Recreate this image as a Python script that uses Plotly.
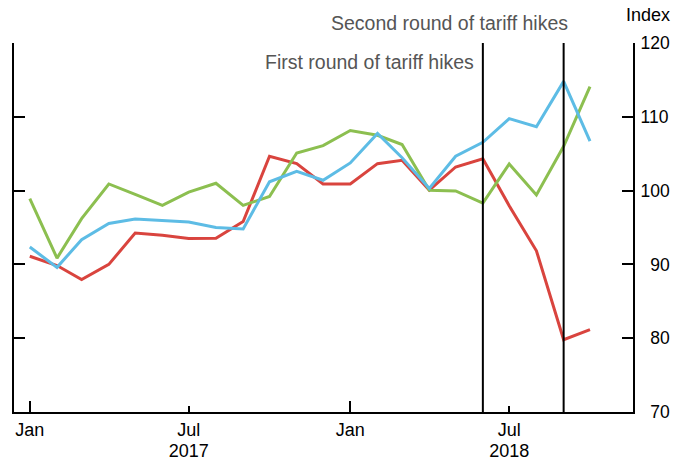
import plotly.graph_objects as go

months = ["2017-01-01", "2017-02-01", "2017-03-01", "2017-04-01", "2017-05-01", "2017-06-01",
          "2017-07-01", "2017-08-01", "2017-09-01", "2017-10-01", "2017-11-01", "2017-12-01",
          "2018-01-01", "2018-02-01", "2018-03-01", "2018-04-01", "2018-05-01", "2018-06-01",
          "2018-07-01", "2018-08-01", "2018-09-01", "2018-10-01"]

green = [98.9, 90.85, 96.2, 100.9, 99.5, 98.0, 99.8, 101.0, 98.0, 99.2, 105.1, 106.1,
         108.15, 107.5, 106.25, 100.05, 99.95, 98.3, 103.6, 99.4, 106.0, 114.1]
blue = [92.35, 89.6, 93.35, 95.55, 96.15, 95.9, 95.75, 95.0, 94.8, 101.2, 102.6, 101.4,
        103.75, 107.75, 104.45, 100.3, 104.65, 106.55, 109.75, 108.65, 114.8, 106.7]
red = [91.1, 89.85, 87.95, 90.0, 94.25, 93.95, 93.5, 93.55, 95.8, 104.65, 103.65, 100.9,
       100.9, 103.65, 104.1, 100.05, 103.2, 104.3, 97.95, 91.85, 79.8, 81.15]

month_ticks = ["2017-01-01", "2017-07-01", "2018-01-01", "2018-07-01"]
month_text = ["Jan", "Jul", "Jan", "Jul"]
year_ticks = ["2017-07-01", "2018-07-01"]
year_text = ["2017", "2018"]
y_ticks = [70, 80, 90, 100, 110, 120]
y_text = ["\u200770", "\u200780", "\u200790", "100", "110", "120"]

events = ["2018-06-01", "2018-09-01"]
event_labels = ["First round of tariff hikes", "Second round of tariff hikes"]

FONT = "Liberation Sans, Arial, sans-serif"
X_RANGE = ["2016-12-14", "2018-11-19"]

fig = go.Figure()
fig.add_trace(go.Scatter(x=months, y=red, mode="lines", line=dict(color="#D9443E", width=3)))
fig.add_trace(go.Scatter(x=months, y=green, mode="lines", line=dict(color="#8CBF50", width=3)))
fig.add_trace(go.Scatter(x=months, y=blue, mode="lines", line=dict(color="#5DBCE5", width=3)))
# invisible trace to activate the year axis
fig.add_trace(go.Scatter(x=year_ticks, y=[None, None], xaxis="x2", mode="lines",
                         hoverinfo="skip", showlegend=False))

for d in events:
    fig.add_shape(type="line", xref="x", yref="y", x0=d, x1=d, y0=70, y1=120,
                  line=dict(color="black", width=2))

fig.add_annotation(x=events[0], y=0.949, xref="x", yref="paper", text=event_labels[0],
                   showarrow=False, xanchor="right", yanchor="middle", xshift=-7,
                   font=dict(family=FONT, size=19.5, color="#555555"))
fig.add_annotation(x=events[1], y=1.055, xref="x", yref="paper", text=event_labels[1],
                   showarrow=False, xanchor="right", yanchor="middle", xshift=6,
                   font=dict(family=FONT, size=19.5, color="#555555"))
fig.add_annotation(x=1.025, y=1.075, xref="paper", yref="paper", text="Index",
                   showarrow=False, xanchor="center", yanchor="middle",
                   font=dict(family=FONT, size=18, color="black"))

fig.update_layout(
    width=686, height=460,
    margin=dict(l=14, r=53, t=43, b=48),
    paper_bgcolor="white", plot_bgcolor="white",
    showlegend=False,
    font=dict(family=FONT, size=18, color="black"),
    xaxis=dict(
        type="date", range=X_RANGE, automargin=False,
        tickvals=month_ticks, ticktext=month_text,
        ticks="inside", ticklen=6, tickwidth=1.5, tickcolor="black",
        showline=True, linecolor="black", linewidth=2,
        showgrid=False, zeroline=False,
        minor=dict(ticks="inside", ticklen=11, tickwidth=1.5, tickcolor="black",
                   dtick="M12", tick0="2017-01-01", showgrid=False),
        tickfont=dict(family=FONT, size=18, color="black"),
    ),
    xaxis2=dict(
        type="date", range=X_RANGE, automargin=False,
        overlaying="x", anchor="y", side="bottom",
        tickvals=year_ticks, ticktext=year_text,
        ticks="", showline=False, showgrid=False, zeroline=False,
        ticklabelstandoff=26,
        tickfont=dict(family=FONT, size=18, color="black"),
    ),
    yaxis=dict(
        range=[70, 120], side="right", automargin=False,
        tickvals=y_ticks, ticktext=y_text,
        ticks="inside", ticklen=11, tickwidth=2, tickcolor="black",
        showline=True, linecolor="black", linewidth=2, mirror="ticks",
        showgrid=False, zeroline=False, ticklabelstandoff=2,
        tickfont=dict(family=FONT, size=17.5, color="black"),
    ),
)

fig.write_html("out.html", config={"displayModeBar": False},
               post_script="document.body.style.margin='0';")
